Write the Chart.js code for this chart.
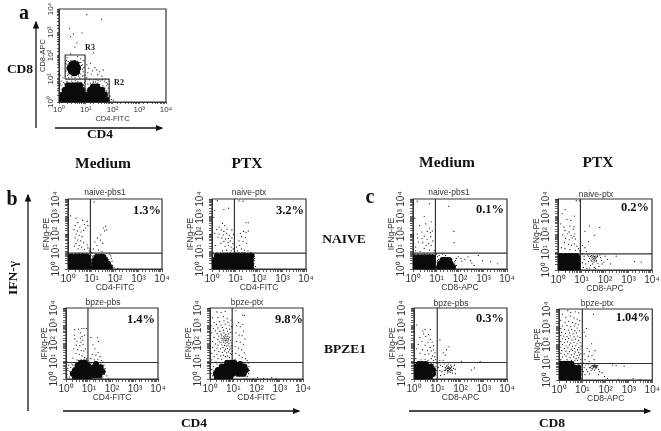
<!DOCTYPE html>
<html>
<head>
<meta charset="utf-8">
<script src="https://cdn.jsdelivr.net/npm/chart.js@4"></script>
<style>
html, body { margin: 0; padding: 0; background: #fff; overflow: hidden; }
#page { position: relative; width: 661px; height: 431px; filter: blur(0.35px); }
canvas { position: absolute; left: 0; top: 0; }
svg { position: absolute; left: 0; top: 0; }
.t { position: absolute; transform: translate(-50%, -50%); white-space: nowrap; font-family: "Liberation Serif", serif; font-weight: bold; color: #111; }
.head { font-size: 15.5px; }
.big { font-size: 13.5px; }
.letter { font-size: 20px; }
.gate { font-size: 8px; }
.pct { font-size: 12.5px; transform: translate(-100%, -50%); }
.name { font-family: "Liberation Sans", sans-serif; font-weight: normal; font-size: 8.5px; color: #333; }
</style>
</head>
<body>
<div id="page">
  <svg width="661" height="431">
    <defs><marker id="tip" markerWidth="6" markerHeight="6" refX="5" refY="3" orient="auto"><path d="M0,0.5 L6,3 L0,5.5 Z" fill="#111"/></marker></defs>
    <g stroke="#111" stroke-width="1.3">
      <line x1="36" y1="128" x2="36" y2="22" marker-end="url(#tip)"/>
      <line x1="55" y1="128" x2="162" y2="128" marker-end="url(#tip)"/>
      <line x1="28" y1="411" x2="28" y2="195" marker-end="url(#tip)"/>
      <line x1="63" y1="411" x2="299" y2="411" marker-end="url(#tip)"/>
      <line x1="409" y1="411" x2="650" y2="411" marker-end="url(#tip)"/>
    </g>
  </svg>
  <div class="t letter" style="left:24px;top:12px">a</div>
  <div class="t letter" style="left:12px;top:198px">b</div>
  <div class="t letter" style="left:370px;top:196px">c</div>
  <div class="t big" style="left:20px;top:69px">CD8</div>
  <div class="t big" style="left:100px;top:134px">CD4</div>
  <div class="t gate" style="left:90px;top:47px">R3</div>
  <div class="t gate" style="left:119px;top:82px">R2</div>
  <div class="t head" style="left:103px;top:163px">Medium</div>
  <div class="t head" style="left:247px;top:163px">PTX</div>
  <div class="t head" style="left:447px;top:162px">Medium</div>
  <div class="t head" style="left:598px;top:162px">PTX</div>
  <div class="t big" style="left:344px;top:239px">NAIVE</div>
  <div class="t big" style="left:345px;top:349px">BPZE1</div>
  <div class="t big" style="left:13px;top:278px;transform:translate(-50%,-50%) rotate(-90deg)">IFN-γ</div>
  <div class="t big" style="left:194px;top:423px">CD4</div>
  <div class="t big" style="left:552px;top:423px">CD8</div>
  <div class="t name" style="left:105px;top:192px">naive-pbs1</div>
  <div class="t name" style="left:249px;top:192px">naive-ptx</div>
  <div class="t name" style="left:103px;top:302px">bpze-pbs</div>
  <div class="t name" style="left:247px;top:302px">bpze-ptx</div>
  <div class="t name" style="left:449px;top:192px">naive-pbs1</div>
  <div class="t name" style="left:596px;top:194px">naive-ptx</div>
  <div class="t name" style="left:451px;top:303px">bpze-pbs</div>
  <div class="t name" style="left:597px;top:303px">bpze-ptx</div>
  <div class="t pct" style="left:161px;top:210px">1.3%</div>
  <div class="t pct" style="left:304px;top:210px">3.2%</div>
  <div class="t pct" style="left:155px;top:319px">1.4%</div>
  <div class="t pct" style="left:303px;top:319px">9.8%</div>
  <div class="t pct" style="left:504px;top:209px">0.1%</div>
  <div class="t pct" style="left:649px;top:207px">0.2%</div>
  <div class="t pct" style="left:504px;top:318px">0.3%</div>
  <div class="t pct" style="left:650px;top:317px">1.04%</div>
</div>
<script>
// gates, in fluorescence units
const gateR3 = [[1.7,9.7],[1.7,105],[9.4,105],[9.4,9.7],[1.7,9.7]];
const gateR2 = [[9.4,1],[9.4,9.7],[75,9.7],[75,1]];

// a: CD4 against CD8, all cells
const allCore = [[1.2,1.2],[1.7,1.2],[2.5,1.2],[3.5,1.2],[5,1.2],[7,1.2],[1.4,2],[2,2],[3,2],[4.5,2],[6.5,2],[8.5,2],[1.7,3.2],[2.5,3.2],[3.5,3.2],[5,3.2],[7,3.2],[2.2,5],[3.2,5],[4.5,5],[6,5],
  [11,1.2],[15,1.2],[21,1.2],[30,1.2],[42,1.2],[58,1.2],[13,2],[18,2],[25,2],[35,2],[50,2],[15,3.2],[21,3.2],[30,3.2],[40,3.2],[19,4.5],[26,4.5],
  [3.6,29],[2.6,29],[5,29],[3.6,20],[2.9,21],[4.6,20],[3,40],[4.4,40],[3.6,45],[3.6,18]];
const allDots = [[11,5700],[39,3700],[2.5,1400],[7.3,930],[3.5,850],[2.7,650],[4.7,350],[3.9,230],[20,130],[2.7,117],[2,80],[5,90],[6.5,72],[8,60],[1.9,62],[1.8,45],[2,30],[1.8,20],[2.1,14],[2.3,11],[3,12],[4,11],[6,11],[7.5,13],[8,20],[8.5,30],[7.5,40],[6.5,50],[8.5,14],
  [11,40],[13,28],[15,45],[18,22],[12,18],[16,16],[22,30],[26,24],[28,15],[33,20],[40,13],[45,24],[11,11],[14,9],[19,8],[24,9],[29,8.5],[35,8],[42,9],[50,8],[58,7],[65,6],[70,4],[68,2.5],[72,1.5],[60,5],[80,1.8],[90,1.3],[110,1.2],[1.2,8],[1.4,11],[1.6,6],[1.2,5],[1.3,3.5],[7,6.5],[8.5,5],[9,7],[9.5,3.5],[10,8],[1.1,14],
  [1.1,6],[1.5,7],[2,7.5],[3,8],[4,8.2],[5,7.8],[6.5,7],[8,5.5],[9,4],[10,1.6],[10.5,3],[12,6],[15,6.5],[19,7],[23,7.2],[28,6.5],[33,5.6],[44,5],[52,4],[60,3],[66,2.2],[48,3.6],[70,1.4],[2.2,16],[2,24],[2,40],[2.2,55],[2.8,60],[4,62],[5,58],[6,50],[7,38],[7.4,26],[6.5,16],[5.5,13],[4.4,13.5]];

// b: CD4 gated, IFN-g
const naivePbsCd4Core = [[1.2,1.2],[1.8,1.2],[2.6,1.2],[3.8,1.2],[5.5,1.2],[7.5,1.2],[1.2,2],[1.8,2],[2.6,2],[3.8,2],[5.5,2],[7.5,2],[1.3,3.2],[1.9,3.2],[2.7,3.2],[3.9,3.2],[5.6,3.2],[7.5,3.2],[1.4,5],[2.2,5],[3.2,5],[4.5,5],[6.5,5],
  [13,1.2],[17,1.2],[24,1.2],[34,1.2],[46,1.2],[60,1.2],[13,2],[18,2],[26,2],[36,2],[50,2],[14,3.2],[20,3.2],[28,3.2],[38,3.2],[17,4.8],[24,4.8],[32,4.8]];
const naivePbsCd4Dots = [[13,6800],[1.3,1100],[2.2,800],[2.6,450],[4.2,600],[5,350],[6.5,520],[2,300],[3.2,250],[5.5,220],[7,300],[1.8,180],[2.5,150],[3.6,130],[4.6,160],[2.2,100],[3,85],[4,70],[2,60],[2.6,45],[3.5,40],[4.6,32],[2.2,28],[3,22],[1.9,20],[3.8,18],[2.7,14],[5,13],[6.5,24],[7,16],[8,11],[9,10],[8.6,14],
  [32,220],[40,280],[45,170],[36,150],[25,90],[18,60],[24,45],[14,35],[30,30],[17,22],[12,14],[20,12],[10,9],[28,10],[9.5,6],[10.5,3],[9,2],[9.8,1.4],[11,5],[60,7],[70,4],[75,2.8],[80,1.6],[66,5.6],[90,1.2],[130,1.1],[1.1,7],[4,7.5],[2.8,7],[6,7.2],
  [1.1,6.5],[1.5,7],[2,7.4],[3,7.5],[4.2,7.6],[5.4,7],[7.2,6.4],[8.4,5],[8.8,3],[9,1.5],[12,5.6],[15,6.6],[20,6.8],[26,7],[33,6.6],[40,5.8],[46,4.6],[54,3.4],[60,2.4],[68,1.8]];

const naivePtxCd4Core = [[1.2,1.2],[1.8,1.2],[2.6,1.2],[3.8,1.2],[5.5,1.2],[8,1.2],[11.5,1.2],[16,1.2],[23,1.2],[32,1.2],[45,1.2],[1.2,2],[1.8,2],[2.6,2],[3.8,2],[5.5,2],[8,2],[11.5,2],[16,2],[23,2],[32,2],[45,2],[1.2,3.2],[1.8,3.2],[2.6,3.2],[3.8,3.2],[5.5,3.2],[8,3.2],[11.5,3.2],[16,3.2],[23,3.2],[32,3.2],[45,3.2],[1.6,5.5],[2.6,5.5],[3.8,5.5],[5.5,5.5],[8,5.5],[11.5,5.5],[16,5.5],[23,5.5],[32,5.5],[48,5.5]];
const naivePtxCd4Dots = [[1.7,8000],[5,3000],[3.2,2500],[1.3,2200],[1.2,900],[21,7500],[14,7800],[28,450],[35,440],[2.8,400],[2,250],[3.5,300],[1.6,180],[2.5,170],[3.2,140],[4.4,190],[7,170],[2,100],[3,90],[4.2,110],[5.5,85],[8.4,95],[1.3,110],[1.8,65],[2.6,60],[3.8,52],[5,55],[7,60],[3.2,38],[4.8,32],[6,40],[7.7,28],[2.4,30],[3.6,20],[5,22],[6.5,18],[8,14],[1.4,22],[9,12],[6.6,11],[4.2,12],[2.8,11],
  [16,110],[22,140],[28,120],[35,150],[18,70],[26,65],[14,40],[21,38],[30,30],[15,22],[11,18],[18,14],[24,12],[34,11],[12,11],[45,9],[60,7],[65,4],[62,2],[70,1.4],[60,1.1],
  [1.1,7.4],[1.6,8],[2.3,7.8],[3.2,8.4],[4.4,8],[6,8.6],[8,8.2],[10.5,9],[14,8.6],[19,9],[25,8.4],[34,8],[44,7.8],[55,7],[60,5],[62,3],[58,1.6]];

const bpzePbsCd4Core = [[2.5,1.2],[3.5,1.2],[5,1.2],[7,1.2],[10,1.2],[2,2],[3,2],[4.5,2],[6.5,2],[9,2],[2.5,3.2],[3.5,3.2],[5,3.2],[7,3.2],[10,3.2],[3.2,5.5],[4.5,5.5],[6.5,5.5],[9,5.5],[4.5,8],[6.5,8],
  [15,1.6],[20,1.6],[28,1.6],[14,2.6],[20,2.6],[28,2.6],[38,2.6],[16,4.5],[23,4.5],[32,4.5],[20,7]];
const bpzePbsCd4Dots = [[2.4,600],[2.3,300],[3.5,650],[4.8,700],[6,700],[7.6,680],[4.2,400],[2.4,180],[4.2,200],[5,250],[6.4,300],[3,130],[4.5,120],[5.4,150],[2.8,80],[4,75],[5.5,90],[2.2,50],[3.2,45],[4.6,40],[6,38],[7,50],[2.7,28],[3.8,24],[5,20],[6.5,16],[8,14],[2,15],[3,12],[1.1,9],[1.3,6],[1.2,4],[1.5,2.6],[1.1,1.8],[1.4,1.3],[1.8,7],[1.6,4.5],[1.7,1.7],[1.9,3.4],[2,6],[2.5,8],[1.2,3],[1.1,1.3],
  [12,220],[15,85],[23,210],[26,130],[18,50],[25,32],[14,24],[20,22],[30,18],[12,14],[17,12],[24,13],[34,11],[40,9],[45,6],[50,4],[52,2.6],[46,1.8],[40,1.3],[36,1.1],[60,1.5],[70,1.1],
  [3.4,11],[4.6,12],[6,13],[7.6,12],[9,11],[10.5,9],[3,8],[12,7],[13,8.4],[26,8],[32,7],[40,5.6],[44,3.6]];

const bpzePtxCd4Core = [[2,1.3],[2.8,1.3],[4,1.3],[5.5,1.3],[7.5,1.3],[1.8,2],[2.6,2],[3.6,2],[5,2],[7,2],[9.5,2],[2.2,3.2],[3.2,3.2],[4.5,3.2],[6.5,3.2],[9,3.2],[12,3.2],[3.2,5],[4.5,5],[6.5,5],[9,5],[12,5],[5.5,8],[8,8],[11,8],
  [16,2],[21,2],[28,2],[15,3.2],[20,3.2],[27,3.2],[35,3.2],[17,5],[23,5],[30,5],[20,7]];
const bpzePtxCd4Dots = [[2,6000],[3,5500],[4.5,6500],[1.3,2800],[2.2,3000],[3.8,3300],[5.5,2500],[1.5,1500],[2.6,1700],[4,1900],[6,1600],[8,2100],[1.2,1000],[1.9,1200],[3,1100],[4.5,1250],[6.6,1000],[8.5,900],[1.4,700],[2.2,750],[3.4,800],[5,700],[7,650],[1.7,520],[2.7,480],[3.8,560],[5.6,500],[7.8,420],[1.2,400],[2,360],[3,340],[4,400],[4.8,330],[6.4,350],
  [2.4,260],[3.2,270],[3.8,240],[4.4,270],[5,240],[5.8,260],[7,230],[3,200],[3.6,190],[4.2,205],[4.8,185],[5.5,195],[6.2,180],[1.5,220],[2.2,170],[3.3,150],[4,160],[4.6,145],[5.2,155],[6,140],[7.5,150],[1.3,130],[2.5,125],[3,110],[3.8,120],[4.5,105],[5.4,115],[6.6,100],[8.2,110],[1.7,95],[2.2,80],[3.2,85],[4.2,78],[5,72],[6,80],[7.2,65],[8.6,75],[1.3,60],[2,55],[2.8,50],[3.6,58],[4.6,48],[5.6,52],[6.8,44],[8,50],[9,36],[1.6,40],[2.4,35],[3.4,32],[4.2,38],[5.2,30],[6.2,34],[7.4,28],[8.4,24],[1.2,28],[2,24],[2.9,20],[3.8,22],[4.6,18],[5.6,20],[7,16],[1.5,18],[2.2,14],[3.2,13],[1.2,12],[1.8,9],[1.1,7],[1.4,5],[1.2,3.4],[1.1,2],[1.3,1.5],[1.5,3],[2,7],
  [13,7000],[25,4000],[30,3800],[17,1500],[26,1200],[14,1000],[20,900],[28,500],[13,400],[18,300],[24,280],[32,180],[14,130],[20,120],[27,90],[12,70],[17,55],[23,45],[30,30],[13,28],[18,22],[24,16],[34,14],[12,13],[40,11],[44,8],[48,5],[50,3],[46,2],[40,1.4],[36,1.1],[70,1.1],[110,1.2],[200,1.1],[450,1.2],[700,1.1]];

// c: CD8 gated, IFN-g
const naivePbsCd8Core = [[1.2,1.2],[1.7,1.2],[2.4,1.2],[3.4,1.2],[4.8,1.2],[6.8,1.2],[1.2,1.9],[1.7,1.9],[2.4,1.9],[3.4,1.9],[4.8,1.9],[6.8,1.9],[1.2,3],[1.7,3],[2.4,3],[3.4,3],[4.8,3],[6.8,3],[1.2,4.6],[1.7,4.6],[2.4,4.6],[3.4,4.6],[4.8,4.6],[6.8,4.6],
  [13,1.3],[18,1.3],[25,1.3],[35,1.3],[50,1.3],[14,2],[20,2],[28,2],[40,2],[18,3.2],[25,3.2],[34,3.2]];
const naivePbsCd8Dots = [[5,5500],[1.5,7500],[33,3800],[3,1000],[1.2,800],[6,500],[3.5,380],[5,220],[1.9,300],[2.4,130],[4,140],[1.5,100],[5.5,120],[6.6,150],[3,75],[1.6,60],[2.4,55],[4,50],[5.6,70],[7,40],[1.7,35],[2.6,32],[4.6,28],[6,22],[1.3,18],[3,15],[3.6,22],[8,11],[5,12],[2,10],[1.3,11],[55,140],[55,32],[8,6],[9,4],[9.5,2.5],[8.5,1.6],[10,1.2],[11,3],[11,5],[10,7],[13,6],[18,7],[24,6],[11,1.8],[60,2],[70,1.6],[65,3],[70,4],[85,5],[110,4],[120,2.8],[160,3.5],[220,5],[280,3],[320,2.2],[400,1.6],[600,6],[900,3],[2000,2.6],[4000,2],
  [1.1,6.5],[1.6,6.8],[2.2,6.4],[3,6.9],[4,6.6],[5.2,6.8],[7,6.4],[8,5.2],[8.4,3.6],[8.2,2.2],[45,3.4],[40,4],[30,4.4],[22,4.6],[15,3.8],[12,3.4],[58,2.6]];

const naivePtxCd8Core = [[1.2,1.2],[1.7,1.2],[2.4,1.2],[3.4,1.2],[4.8,1.2],[6.8,1.2],[1.2,1.9],[1.7,1.9],[2.4,1.9],[3.4,1.9],[4.8,1.9],[6.8,1.9],[1.2,3],[1.7,3],[2.4,3],[3.4,3],[4.8,3],[6.8,3],[1.2,4.8],[1.7,4.8],[2.4,4.8],[3.4,4.8],[4.8,4.8],[6.8,4.8],[1.3,6],[2,6],[3,6],[4.4,6],[6,6]];
const naivePtxCd8Dots = [[6,8000],[8,7800],[2,2500],[1.5,1500],[5,1100],[2.4,700],[3.5,620],[1.3,400],[1.8,260],[3.2,300],[4.8,280],[2,170],[3,140],[4.5,200],[5.2,110],[1.6,95],[2.6,110],[3.6,90],[4.8,80],[2.1,60],[3,50],[4,65],[5.5,55],[1.9,35],[2.8,28],[3.8,25],[5,30],[6.4,22],[7.5,16],[8.5,12],[2,16],[3.2,14],[5.5,13],[1.4,18],
  [22,300],[60,250],[14,150],[35,90],[20,40],[11,24],[14,18],[16,11],[11,8],[13,6],[18,7],[13,4],[11,2.6],[15,2.2],[20,3],[24,1.8],[12,1.4],[17,1.2],[30,2.2],[22,1.3],[35,1.4],[42,3],[50,2.4],[48,6],[60,7],[65,5],[70,3.5],[75,2.2],[55,1.6],[40,1.2],[100,6],[125,4],[170,2.2],[90,2.8],[300,6],[1800,3],[3500,2.8],
  [20,6],[22,4.4],[24,5.6],[26,3.6],[27,6.4],[28,4.8],[30,5.4],[31,3.8],[32,6.2],[33,4.6],[35,5.6],[36,3.6],[37,4.8],[38,6],[40,4.2],[41,5.4],[43,3.4],[45,5],[47,6.2],[28,3],[34,2.8]];

const bpzePbsCd8Core = [[1.2,1.2],[1.7,1.2],[2.4,1.2],[3.4,1.2],[4.8,1.2],[1.2,2],[1.7,2],[2.4,2],[3.4,2],[4.8,2],[6.5,2],[1.2,3.2],[1.7,3.2],[2.4,3.2],[3.4,3.2],[4.8,3.2],[6.5,3.2],[1.3,5],[1.9,5],[2.7,5],[3.8,5],[5.2,5],[1.6,7],[2.3,7],[3.2,7]];
const bpzePbsCd8Dots = [[1.3,1100],[2.4,500],[3,620],[5,600],[2.6,350],[4.2,320],[1.8,220],[3.2,250],[5,170],[2.2,130],[4,110],[6,120],[1.5,90],[3,80],[5,60],[7,75],[1.3,50],[2.3,45],[3.8,40],[5.5,38],[7,44],[8,30],[1.8,28],[3,24],[4.4,26],[6.2,20],[7.8,18],[1.2,14],[2,12],[3,13],[4,11],[5.5,14],[7,11],[8.5,13],[6.8,7],[8,5],[9,3],[8.5,1.8],[7,1.4],[6,1.2],[9,8],
  [13,160],[25,45],[32,65],[18,30],[22,22],[13,11],[18,11],[12,8],[14,6],[11,4.5],[13,3],[17,5],[20,7],[16,2.6],[22,3],[26,6],[14,1.6],[20,1.8],[28,2.2],[30,7],[38,6],[42,5],[46,3],[44,2.2],[36,2.4],[50,4],[60,3.5],[60,2],[55,6],[110,10],[300,3.2],[400,4.2],[700,10],
  [20,3],[22,4.5],[24,3.4],[26,5],[27,2.8],[28,3.8],[29,4.4],[30,3.2],[31,5],[32,2.6],[33,4],[34,3.4],[35,4.6],[37,3],[38,3.8],[40,4.4],[42,3.2],[24,4],[28,3],[31,4],
  [1.1,9],[1.5,9.6],[2.2,10],[3,9.6],[4.2,8.4],[5.6,7],[7,5],[7.8,3.4],[7.4,2],[6,1.4]];

const bpzePtxCd8Core = [[1.2,1.2],[1.7,1.2],[2.4,1.2],[3.4,1.2],[4.8,1.2],[6.8,1.2],[1.2,2],[1.7,2],[2.4,2],[3.4,2],[4.8,2],[6.8,2],[1.2,3.2],[1.7,3.2],[2.4,3.2],[3.4,3.2],[4.8,3.2],[6.8,3.2],[1.2,5],[1.7,5],[2.4,5],[3.4,5],[4.8,5],[6.8,5],[1.2,8],[1.7,8],[2.4,8],[3.4,8]];
const bpzePtxCd8Dots = [[2.4,8000],[3.2,6500],[5,7000],[7,6000],[1.4,5000],[2,3500],[3,4000],[4.4,3200],[6,2700],[7.8,2200],[1.2,2300],[1.8,1800],[2.6,2000],[3.8,1700],[5.2,1500],[6.8,1300],[1.4,1100],[2.2,1200],[3.2,1000],[4.6,1100],[6,850],[1.2,800],[1.7,700],[2.5,650],[3.5,720],[4.8,600],[7.5,600],[1.3,480],[1.9,420],[2.8,450],[4,400],[5.6,450],[1.2,320],[1.6,300],[2.2,280],[3,310],[4.4,270],[6.4,300],[8,250],[1.4,210],[1.9,190],[2.6,220],[3.6,180],[5,200],[7,170],[1.2,150],[1.7,130],[2.3,140],[3.2,120],[4.4,130],[6,110],[8,130],[1.4,100],[2,85],[2.8,95],[3.8,80],[5.2,85],[7,70],[8.8,80],[1.2,70],[1.7,60],[2.4,65],[3.4,55],[4.6,60],[6.2,50],[8,55],[1.3,45],[2,42],[2.8,40],[3.8,46],[5,38],[7,36],[8.6,30],[1.2,32],[1.7,28],[2.4,30],[3.4,26],[4.6,30],[6,24],[7.6,26],[1.4,20],[2,22],[3,18],[4.2,20],[5.4,16],[7,18],[8.6,14],[1.2,14],[2.2,14],[3.4,13],[4.8,12],[6.2,13],
  [7,8],[8,6],[9,4],[8.5,2.5],[7.5,1.5],[9.5,7],[8.5,9],
  [30,5000],[15,800],[12,500],[14,300],[25,110],[16,60],[20,40],[35,45],[12,30],[18,22],[26,24],[13,14],[20,11],[32,14],[11,9],[14,7],[18,8],[12,5],[15,4],[11,3],[17,3],[13,2],[20,2.2],[22,5],[24,3.4],[28,4.2],[33,3.6],[38,4.4],[42,5],[46,6.5],[50,4],[55,3],[50,2],[70,2.6],[90,1.6],[200,7],[280,6.5],[620,6],[120,1.2],[350,1.1],[1500,1.2],[3000,1.1],
  [20,5],[24,6],[26,4.5],[28,6.5],[30,5.2],[31,6.8],[32,5.8],[34,6.2],[35,5],[36,7],[37,6],[38,5.4],[40,6.4],[42,5.6],[29,6],[33,7]];

function tickLabel(value) {
    const power = Math.log10(value);
    if (!Number.isInteger(power)) return '';
    return '10' + '⁰¹²³⁴'[power];
}

function logAxis(title, position, small) {
    const left = position === 'left';
    return {
        type: 'logarithmic',
        position: position,
        min: 1,
        max: 10000,
        title: { display: true, text: title, color: '#333', padding: 0, font: { family: 'Liberation Sans', size: small ? 7.5 : 8.5 } },
        border: { color: '#333', width: 1 },
        grid: { drawOnChartArea: false, tickLength: small ? 2 : 3, color: '#222', tickWidth: 0.7 },
        ticks: {
            autoSkip: false,
            color: '#333',
            padding: left ? (small ? 0 : 1) : 1,
            minRotation: left ? 90 : 0,
            maxRotation: left ? 90 : 0,
            crossAlign: left ? 'center' : 'near',
            font: { family: 'Liberation Sans', size: small ? 8 : 10 },
            callback: tickLabel
        }
    };
}

function lineSet(points) {
    return {
        data: points.map(p => ({ x: p[0], y: p[1] })),
        showLine: true,
        borderColor: '#333',
        borderWidth: 1.2,
        pointRadius: 0,
        clip: false
    };
}

function pointSet(points, radius) {
    return {
        data: points.map(p => ({ x: p[0], y: p[1] })),
        backgroundColor: '#0b0b0b',
        borderWidth: 0,
        pointRadius: radius
    };
}

// left, top, right, bottom are where the plot box sits on the page
function drawPanel(box, core, dots, gates, xTitle, yTitle, small) {
    const canvas = document.createElement('canvas');
    canvas.width = 661;
    canvas.height = 431;
    document.getElementById('page').appendChild(canvas);
    const xSize = small ? 21 : 24;
    const ySize = small ? 21 : 26;
    const xAxis = logAxis(xTitle, 'bottom', small);
    const yAxis = logAxis(yTitle, 'left', small);
    xAxis.afterFit = scale => { scale.height = xSize; };
    yAxis.afterFit = scale => { scale.width = ySize; };
    yAxis.afterCalculateLabelRotation = scale => { scale.labelRotation = 90; };
    const frame = [[1, 1], [1, 10000], [10000, 10000], [10000, 1], [1, 1]];
    new Chart(canvas.getContext('2d'), {
        type: 'scatter',
        data: {
            datasets: [
                pointSet(core, small ? 3.4 : 3.1),
                pointSet(dots, 0.6)
            ].concat(gates.map(lineSet), [lineSet(frame)])
        },
        options: {
            responsive: false,
            animation: false,
            layout: { padding: { left: box[0] - ySize, top: box[1], right: 661 - box[2], bottom: 431 - box[3] - xSize } },
            plugins: { legend: { display: false }, tooltip: { enabled: false } },
            scales: { x: xAxis, y: yAxis }
        }
    });
}

function quadrant(x, y) {
    return [[[x, 1], [x, 10000]], [[1, y], [10000, y]]];
}

drawPanel([59, 9, 166, 102], allCore, allDots, [gateR3, gateR2], 'CD4-FITC', 'CD8-APC', true);
drawPanel([68, 199, 162, 269], naivePbsCd4Core, naivePbsCd4Dots, quadrant(9, 8), 'CD4-FITC', 'IFNg-PE');
drawPanel([212, 199, 306, 269], naivePtxCd4Core, naivePtxCd4Dots, quadrant(9, 8), 'CD4-FITC', 'IFNg-PE');
drawPanel([66, 308, 158, 379], bpzePbsCd4Core, bpzePbsCd4Dots, quadrant(9, 8.5), 'CD4-FITC', 'IFNg-PE');
drawPanel([210, 308, 303, 379], bpzePtxCd4Core, bpzePtxCd4Dots, quadrant(9, 8.5), 'CD4-FITC', 'IFNg-PE');
drawPanel([413, 199, 507, 269], naivePbsCd8Core, naivePbsCd8Dots, quadrant(9, 8), 'CD8-APC', 'IFNg-PE');
drawPanel([558, 199, 652, 270], naivePtxCd8Core, naivePtxCd8Dots, quadrant(9, 8), 'CD8-APC', 'IFNg-PE');
drawPanel([414, 308, 507, 379], bpzePbsCd8Core, bpzePbsCd8Dots, quadrant(10, 8.5), 'CD8-APC', 'IFNg-PE');
drawPanel([559, 309, 653, 380], bpzePtxCd8Core, bpzePtxCd8Dots, quadrant(10, 8.5), 'CD8-APC', 'IFNg-PE');
</script>
</body>
</html>
